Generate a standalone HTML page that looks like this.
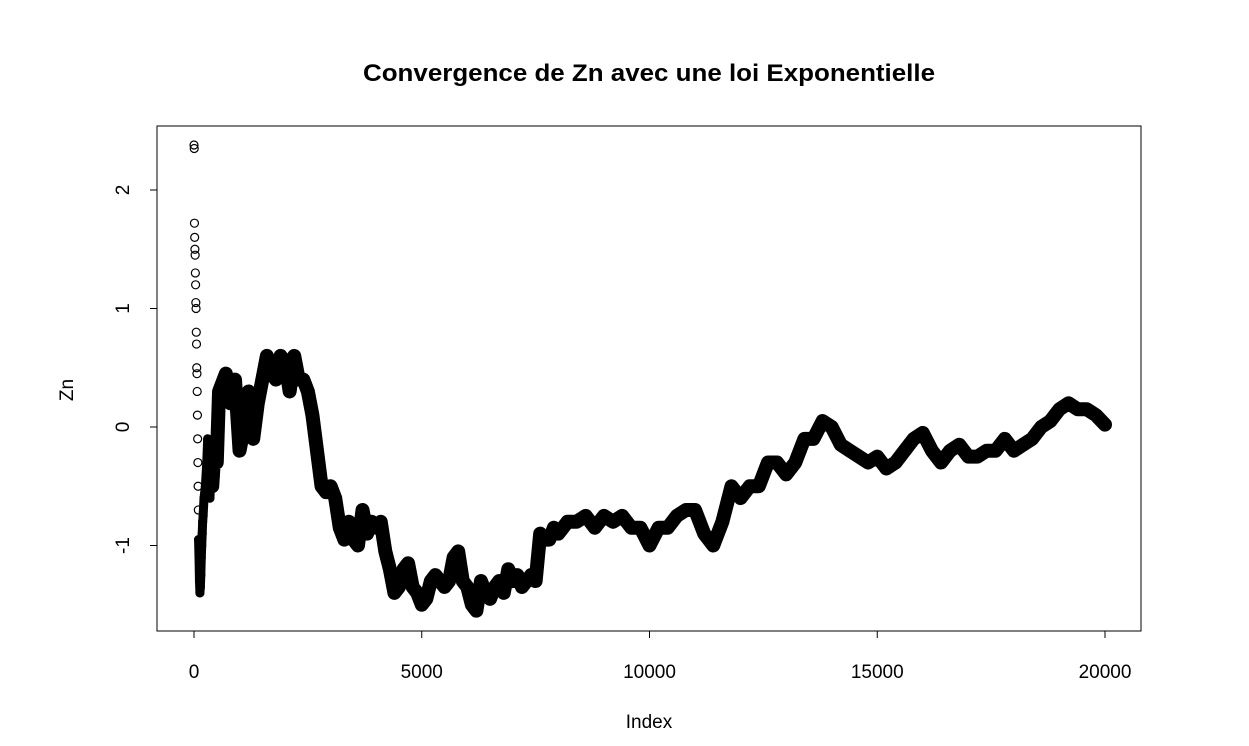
<!DOCTYPE html>
<html><head><meta charset="utf-8"><style>
body{margin:0;background:#fff}
svg{display:block;font-family:"Liberation Sans",sans-serif}
</style></head><body>
<svg id="chart" width="1249" height="746" viewBox="0 0 1249 746">
<text x="649" y="81" text-anchor="middle" font-size="24" font-weight="bold" textLength="572" lengthAdjust="spacingAndGlyphs">Convergence de Zn avec une loi Exponentielle</text>
<rect x="157" y="126" width="984" height="505" fill="none" stroke="#000" stroke-width="1"/>
<g id="xaxis"></g>
<g id="yaxis"></g>
<text x="649" y="728" text-anchor="middle" font-size="19">Index</text>
<text transform="translate(73,390) rotate(-90)" text-anchor="middle" font-size="19">Zn</text>
<g id="series"></g>
</svg>
<script>
const xTicks=[0,5000,10000,15000,20000];
const yTicks=[-1,0,1,2];
const idx=[0,5,10,15,20,25,30,35,40,45,50,55,60,65,70,75,80,85,90,95,100,110,120,130,140,150,160,170,180,190,200,220,250,280,300,330,350,380,400,450,500,550,600,700,800,900,1000,1100,1200,1300,1400,1500,1600,1700,1800,1900,2000,2100,2200,2300,2400,2500,2600,2700,2800,2900,3000,3100,3200,3300,3400,3500,3600,3700,3800,3900,4000,4100,4200,4300,4400,4500,4600,4700,4800,4900,5000,5100,5200,5300,5400,5500,5600,5700,5800,5900,6000,6100,6200,6300,6400,6500,6600,6700,6800,6900,7000,7100,7200,7300,7400,7500,7600,7700,7800,7900,8000,8200,8400,8600,8800,9000,9200,9400,9600,9800,10000,10200,10400,10600,10800,11000,11200,11400,11600,11800,12000,12200,12400,12600,12800,13000,13200,13400,13600,13800,14000,14200,14400,14600,14800,15000,15200,15400,15600,15800,16000,16200,16400,16600,16800,17000,17200,17400,17600,17800,18000,18200,18400,18600,18800,19000,19200,19400,19600,19800,20000];
const zn=[2.38,2.35,1.72,1.6,1.5,1.45,1.3,1.2,1.05,1.0,0.8,0.7,0.5,0.45,0.3,0.1,-0.1,-0.3,-0.5,-0.7,-0.95,-1.1,-1.3,-1.4,-1.35,-1.25,-1.1,-1.0,-0.9,-0.8,-0.75,-0.6,-0.5,-0.3,-0.1,-0.4,-0.6,-0.3,-0.5,-0.2,-0.3,0.3,0.35,0.45,0.2,0.4,-0.2,0.0,0.3,-0.1,0.2,0.4,0.6,0.45,0.4,0.6,0.55,0.3,0.6,0.4,0.4,0.3,0.1,-0.2,-0.5,-0.55,-0.5,-0.6,-0.85,-0.95,-0.8,-0.95,-1.0,-0.7,-0.9,-0.8,-0.85,-0.8,-1.05,-1.2,-1.4,-1.35,-1.2,-1.15,-1.35,-1.4,-1.5,-1.45,-1.3,-1.25,-1.3,-1.35,-1.3,-1.1,-1.05,-1.3,-1.35,-1.5,-1.55,-1.3,-1.4,-1.45,-1.35,-1.3,-1.4,-1.2,-1.3,-1.25,-1.35,-1.3,-1.25,-1.3,-0.9,-0.95,-0.95,-0.85,-0.9,-0.8,-0.8,-0.75,-0.85,-0.75,-0.8,-0.75,-0.85,-0.85,-1.0,-0.85,-0.85,-0.75,-0.7,-0.7,-0.9,-1.0,-0.8,-0.5,-0.6,-0.5,-0.5,-0.3,-0.3,-0.4,-0.3,-0.1,-0.1,0.05,0.0,-0.15,-0.2,-0.25,-0.3,-0.25,-0.35,-0.3,-0.2,-0.1,-0.05,-0.2,-0.3,-0.2,-0.15,-0.25,-0.25,-0.2,-0.2,-0.1,-0.2,-0.15,-0.1,0.0,0.05,0.15,0.2,0.15,0.15,0.1,0.02];
const NS="http://www.w3.org/2000/svg";
const xs=v=>194+v*(1105-194)/20000;
const ys=v=>427-v*118.5;
const xa=document.getElementById('xaxis'),ya=document.getElementById('yaxis'),sg=document.getElementById('series');
function mk(t,a,p){const e=document.createElementNS(NS,t);for(const k in a)e.setAttribute(k,a[k]);p.appendChild(e);return e;}
mk('line',{x1:xs(0),x2:xs(20000),y1:631,y2:631,stroke:'#000'},xa);
xTicks.forEach(t=>{mk('line',{x1:xs(t),x2:xs(t),y1:631,y2:638,stroke:'#000'},xa);
const tx=mk('text',{x:xs(t),y:678,'text-anchor':'middle','font-size':'19'},xa);tx.textContent=t;

});
mk('line',{x1:157,x2:157,y1:ys(-1),y2:ys(2),stroke:'#000'},ya);
yTicks.forEach(t=>{mk('line',{x1:150,x2:157,y1:ys(t),y2:ys(t),stroke:'#000'},ya);
const tx=mk('text',{transform:`translate(129,${ys(t)}) rotate(-90)`,'text-anchor':'middle','font-size':'19'},ya);tx.textContent=t;

});
let d='';idx.forEach((v,i)=>{if(v>=400)d+=(d?'L':'M')+xs(v)+','+ys(zn[i]);});
const pl=mk('path',{d:d,fill:'none',stroke:'#000','stroke-width':'14','stroke-linejoin':'round','stroke-linecap':'round'},sg);


let d2='';idx.forEach((v,i)=>{if(v>=100&&v<=400)d2+=(d2?'L':'M')+xs(v)+','+ys(zn[i]);});
const pl2=mk('path',{d:d2,fill:'none',stroke:'#000','stroke-width':'9','stroke-linejoin':'round','stroke-linecap':'round'},sg);


idx.forEach((v,i)=>{if(v>600)return;const c=mk('circle',{cx:xs(v),cy:ys(zn[i]),r:4,fill:'none',stroke:'#000','stroke-width':'1.2'},sg);

});
</script>
</body></html>
